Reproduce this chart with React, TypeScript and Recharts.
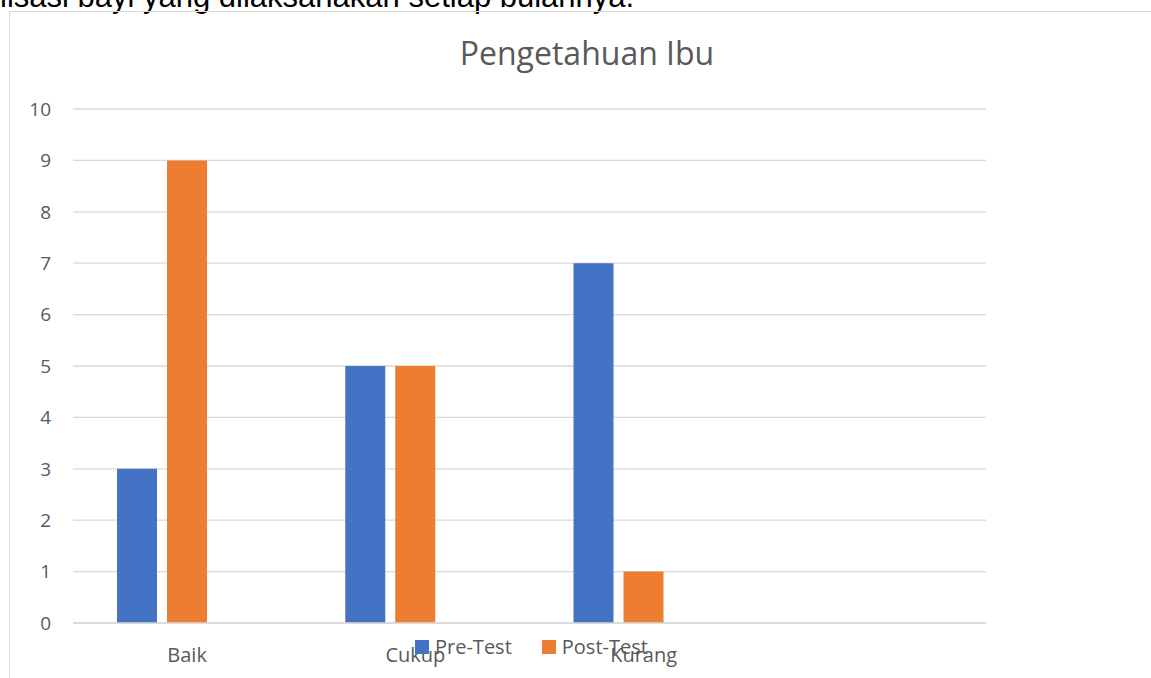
import React from "react";
import { BarChart, Bar, XAxis, YAxis, CartesianGrid } from "recharts";

const categories = ["Baik", "Cukup", "Kurang", ""];
const preTest = [3, 5, 7, null];
const postTest = [9, 5, 1, null];
const hiddenSeries = [null, null, null, null];
const yTicks = [0, 1, 2, 3, 4, 5, 6, 7, 8, 9, 10];
const seriesNames = ["Pre-Test", "Post-Test"];
const seriesColors = ["#4472C4", "#ED7D31"];

const data = categories.map((c, i) => ({
  name: c,
  pre: preTest[i],
  post: postTest[i],
  extra: hiddenSeries[i],
}));

const FONT = "'Open Sans', 'Liberation Sans', sans-serif";

export default function App() {
  return (
    <div style={{ position: "absolute", left: 0, top: 0, width: 1151, height: 678, background: "#fff", overflow: "hidden" }}>
      <div
        style={{
          position: "absolute",
          left: 0,
          top: -19,
          fontFamily: "'Liberation Sans', Arial, sans-serif",
          fontSize: 31,
          color: "#000",
          whiteSpace: "nowrap",
          lineHeight: "31px",
        }}
      >
        lisasi bayi yang dilaksanakan setiap bulannya.
      </div>
      <div style={{ position: "absolute", left: 9, top: 11, width: 1142, height: 667, borderLeft: "1px solid #d9d9d9", borderTop: "1px solid #d9d9d9" }} />
      <div
        style={{
          position: "absolute",
          left: 0,
          width: 1174,
          top: 33,
          textAlign: "center",
          fontFamily: FONT,
          fontSize: 32,
          color: "#595959",
          lineHeight: "40px",
        }}
      >
        Pengetahuan Ibu
      </div>
      <div style={{ position: "absolute", left: 0, top: 0 }}>
        <BarChart
          width={1151}
          height={678}
          data={data}
          margin={{ top: 109, left: 33, right: 165, bottom: 0 }}
          barSize={40}
          barGap={10}
        >
          <CartesianGrid vertical={false} stroke="#d9d9d9" strokeWidth={1.3} />
          <XAxis
            dataKey="name"
            axisLine={{ stroke: "#d9d9d9", strokeWidth: 1.3 }}
            tickLine={false}
            tickSize={0}
            tickMargin={25}
            height={55}
            interval={0}
            tick={{ fill: "#595959", fontSize: 20, fontFamily: FONT }}
          />
          <YAxis
            width={40}
            domain={[0, 10]}
            ticks={yTicks}
            interval={0}
            axisLine={false}
            tickLine={false}
            tickSize={0}
            tickMargin={22}
            tick={{ fill: "#595959", fontSize: 19, fontFamily: FONT }}
          />
          <Bar dataKey="pre" name={seriesNames[0]} fill={seriesColors[0]} isAnimationActive={false} />
          <Bar dataKey="post" name={seriesNames[1]} fill={seriesColors[1]} isAnimationActive={false} />
          <Bar dataKey="extra" name="" fill="#A5A5A5" isAnimationActive={false} legendType="none" />
        </BarChart>
      </div>
      <div
        style={{
          position: "absolute",
          left: 415,
          top: 634,
          display: "flex",
          fontFamily: FONT,
          fontSize: 20,
          lineHeight: "26px",
          color: "#595959",
        }}
      >
        {seriesNames.map((n, i) => (
          <div key={n} style={{ display: "flex", alignItems: "center", marginRight: 30 }}>
            <span style={{ width: 14, height: 14, background: seriesColors[i], display: "inline-block", marginRight: 6 }} />
            <span>{n}</span>
          </div>
        ))}
      </div>
    </div>
  );
}
